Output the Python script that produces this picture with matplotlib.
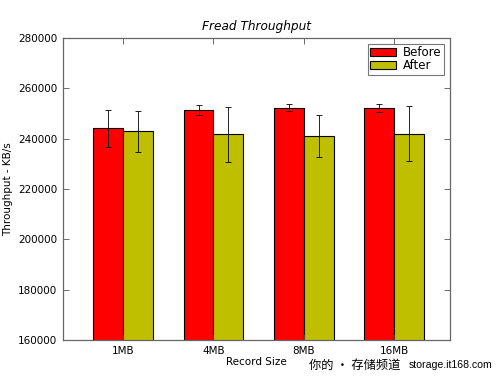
import numpy as np
import matplotlib
matplotlib.use('Agg')
import matplotlib.pyplot as plt

# Datos
sizes = ['1MB', '4MB', '8MB', '16MB']
before = [244200, 251400, 252300, 252300]
before_err = [7300, 2000, 1350, 1500]
after = [242900, 241700, 241100, 242000]
after_err = [8300, 11000, 8500, 10900]
yticks = [160000, 180000, 200000, 220000, 240000, 260000, 280000]

ind = np.arange(len(sizes))
width = 0.33

plt.rcParams['font.family'] = ['DejaVu Sans']
fig = plt.figure(figsize=(5, 3.77), dpi=100)
ax = fig.add_axes([0.126, 0.098, 0.774, 0.801])

ax.bar(ind, before, width, align='edge', color='#ff0000', edgecolor='black',
       linewidth=0.8, yerr=before_err, error_kw=dict(ecolor='black', elinewidth=0.6, capsize=2.5, capthick=0.6),
       label='Before')
ax.bar(ind + width, after, width, align='edge', color='#bfbf00', edgecolor='black',
       linewidth=0.8, yerr=after_err, error_kw=dict(ecolor='black', elinewidth=0.6, capsize=2.5, capthick=0.6),
       label='After')

ax.set_xlim(-0.336, 3.95)
ax.set_ylim(160000, 280000)
ax.set_yticks(yticks)
ax.set_xticks(ind + width)
ax.set_xticklabels(sizes)
ax.tick_params(direction='in', top=True, right=True, labelsize=7.5, length=4, width=0.6, color='#555555', pad=4)
for s in ax.spines.values():
    s.set_color('#666666')
    s.set_linewidth(0.9)

ax.set_title('Fread Throughput', fontsize=8.7, style='italic', pad=6)
ax.set_xlabel('Record Size', fontsize=7.5, labelpad=1)
ax.set_ylabel('Throughput - KB/s', fontsize=7.5)

leg = ax.legend(loc='upper right', fontsize=8.5, fancybox=False, handlelength=2.2, handleheight=0.6,
                handletextpad=0.6, borderpad=0.2, labelspacing=0.0, borderaxespad=0.5)
leg.get_frame().set_edgecolor('#555555')
leg.get_frame().set_linewidth(0.8)

# marca de agua
fig.text(0.8, 0.032, '你的 • 存储频道', fontsize=8.8, ha='right', va='center',
         family=['Noto Sans CJK SC', 'DejaVu Sans'], color='black')
fig.text(0.984, 0.032, 'storage.it168.com', fontsize=7.6, ha='right', va='center',
         family=['Liberation Sans', 'DejaVu Sans'], color='black')

fig.savefig('out.png', dpi=100)
